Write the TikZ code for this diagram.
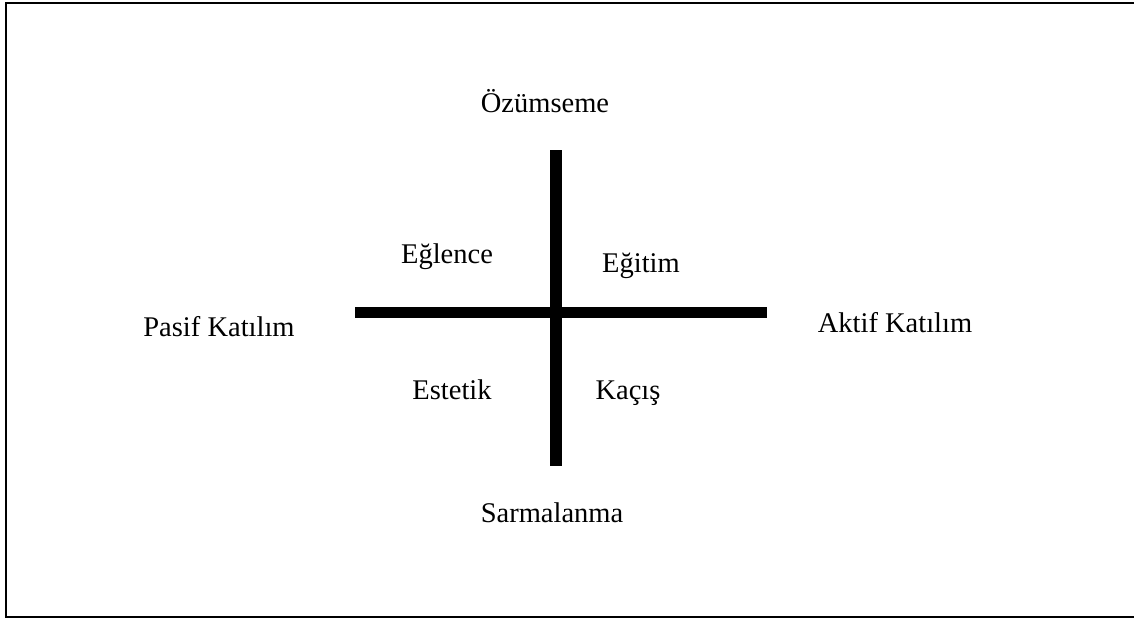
\documentclass[tikz,border=0pt]{standalone}
\usepackage{fontspec}
\setmainfont{Liberation Serif}
\usepackage{tikz}

\tikzset{lbl/.style={font=\fontsize{28.5}{33}\selectfont, inner sep=0pt, anchor=base}}

\begin{document}
\begin{tikzpicture}[x=1pt, y=-1pt]
  \useasboundingbox (0,0) rectangle (1134,618);
  \draw[line width=2pt] (1134,3) -- (6,3) -- (6,616.5) -- (1134,616.5);
  \coordinate (top) at (556,150);
  \coordinate (bot) at (556,466);
  \coordinate (lft) at (355,312.5);
  \coordinate (rgt) at (767,312.5);
  \draw[line width=12pt] (top) -- (bot);
  \draw[line width=11.5pt] (lft) -- (rgt);
  \node[lbl] (ozum) at (545,112) {Özümseme};
  \node[lbl] (sarm) at (552,522) {Sarmalanma};
  \node[lbl] (pasif) at (219,336) {Pasif Katılım};
  \node[lbl] (aktif) at (895,332) {Aktif Katılım};
  \node[lbl] (eglence) at (447,263) {Eğlence};
  \node[lbl] (egitim) at (641,272) {Eğitim};
  \node[lbl] (estetik) at (452,399) {Estetik};
  \node[lbl] (kacis) at (628,399) {Kaçış};
\end{tikzpicture}
\end{document}
